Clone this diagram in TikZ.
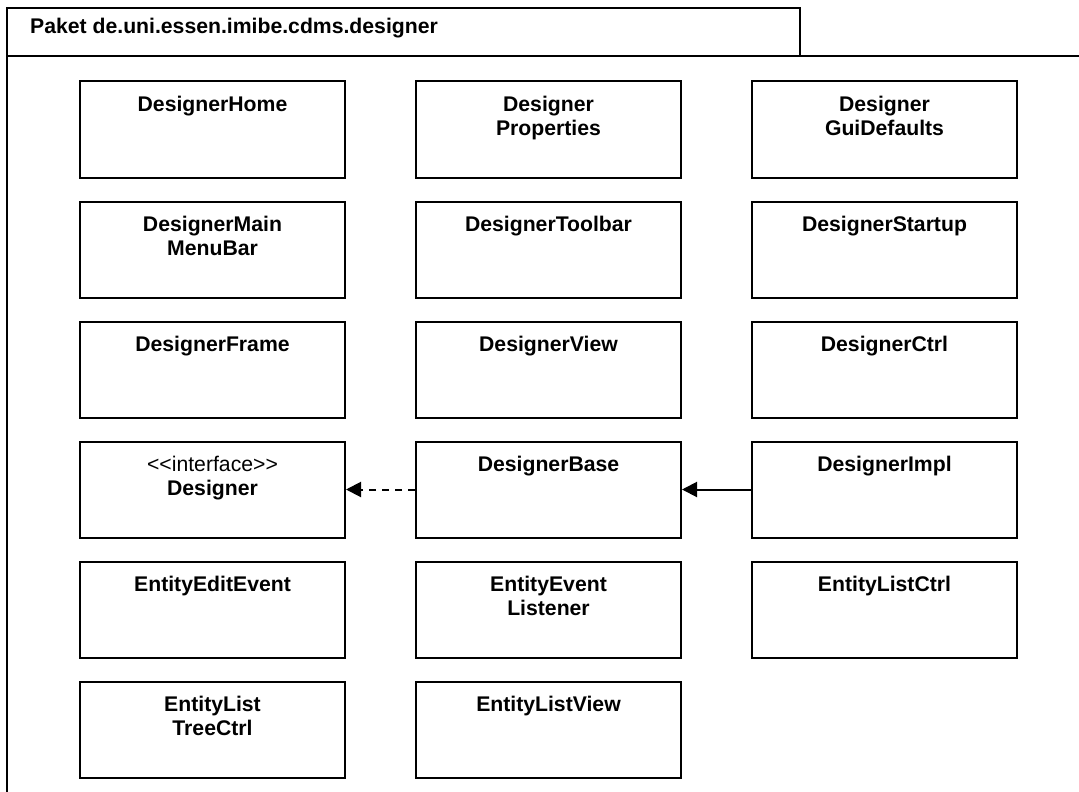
\documentclass[tikz,border=0pt]{standalone}
\usepackage{fontspec}
\setmainfont{Liberation Sans}
\usetikzlibrary{arrows.meta}
\tikzset{
  classbox/.style={draw, line width=2pt, minimum width=265pt, minimum height=96pt, inner sep=0pt, anchor=north west},
  classname/.style={anchor=base, align=center, inner sep=0pt, font=\fontsize{21.2}{24.5}\selectfont\bfseries},
  frameline/.style={line width=2pt},
  realize/.style={line width=2pt, dash pattern=on 7pt off 6pt, -{Triangle[length=15pt,width=15pt]}},
  inherit/.style={line width=2pt, -{Triangle[length=15pt,width=15pt]}},
}
% #1 name, #2 x, #3 y, #4 text, #5 offset of the last baseline below the top
\newcommand{\classnode}[5]{%
  \node[classbox] (#1) at (#2,#3) {};
  \node[classname] (#1-t) at ([yshift=-#5pt]#1.north) {#4};
}
\begin{document}
\begin{tikzpicture}[x=1pt,y=-1pt]
\useasboundingbox (0,0) rectangle (1079,792);
% package frame
\coordinate (tabTL) at (7,8);
\coordinate (tabBR) at (800,56);
\coordinate (bodyL) at (7,56);
\coordinate (bodyR) at (1079,56);
\coordinate (bodyB) at (7,792);
\draw[frameline] (tabTL) rectangle (tabBR);
\draw[frameline] (bodyL) -- (bodyR);
\draw[frameline] (tabTL) -- (bodyB);
\node[anchor=base west, inner sep=0pt, font=\fontsize{21.2}{24.5}\selectfont\bfseries] (title) at (30,34) {Paket de.uni.essen.imibe.cdms.designer};
% boxes
\classnode{home}{79}{80.5}{DesignerHome}{31}
\classnode{props}{415}{80.5}{Designer\\Properties}{55}
\classnode{gui}{751}{80.5}{Designer\\GuiDefaults}{55}
\classnode{menu}{79}{200.5}{DesignerMain\\MenuBar}{55}
\classnode{toolbar}{415}{200.5}{DesignerToolbar}{31}
\classnode{startup}{751}{200.5}{DesignerStartup}{31}
\classnode{frame}{79}{320.5}{DesignerFrame}{31}
\classnode{view}{415}{320.5}{DesignerView}{31}
\classnode{ctrl}{751}{320.5}{DesignerCtrl}{31}
\classnode{designer}{79}{440.5}{\mdseries {<}{<}interface{>}{>}\\Designer}{55}
\classnode{base}{415}{440.5}{DesignerBase}{31}
\classnode{impl}{751}{440.5}{DesignerImpl}{31}
\classnode{editev}{79}{560.5}{EntityEditEvent}{31}
\classnode{listener}{415}{560.5}{EntityEvent\\Listener}{55}
\classnode{listctrl}{751}{560.5}{EntityListCtrl}{31}
\classnode{treectrl}{79}{680.5}{EntityList\\TreeCtrl}{55}
\classnode{listview}{415}{680.5}{EntityListView}{31}
% relations
\draw[realize] (base.west) -- (designer.east);
\draw[inherit] (impl.west) -- (base.east);
\end{tikzpicture}
\end{document}
